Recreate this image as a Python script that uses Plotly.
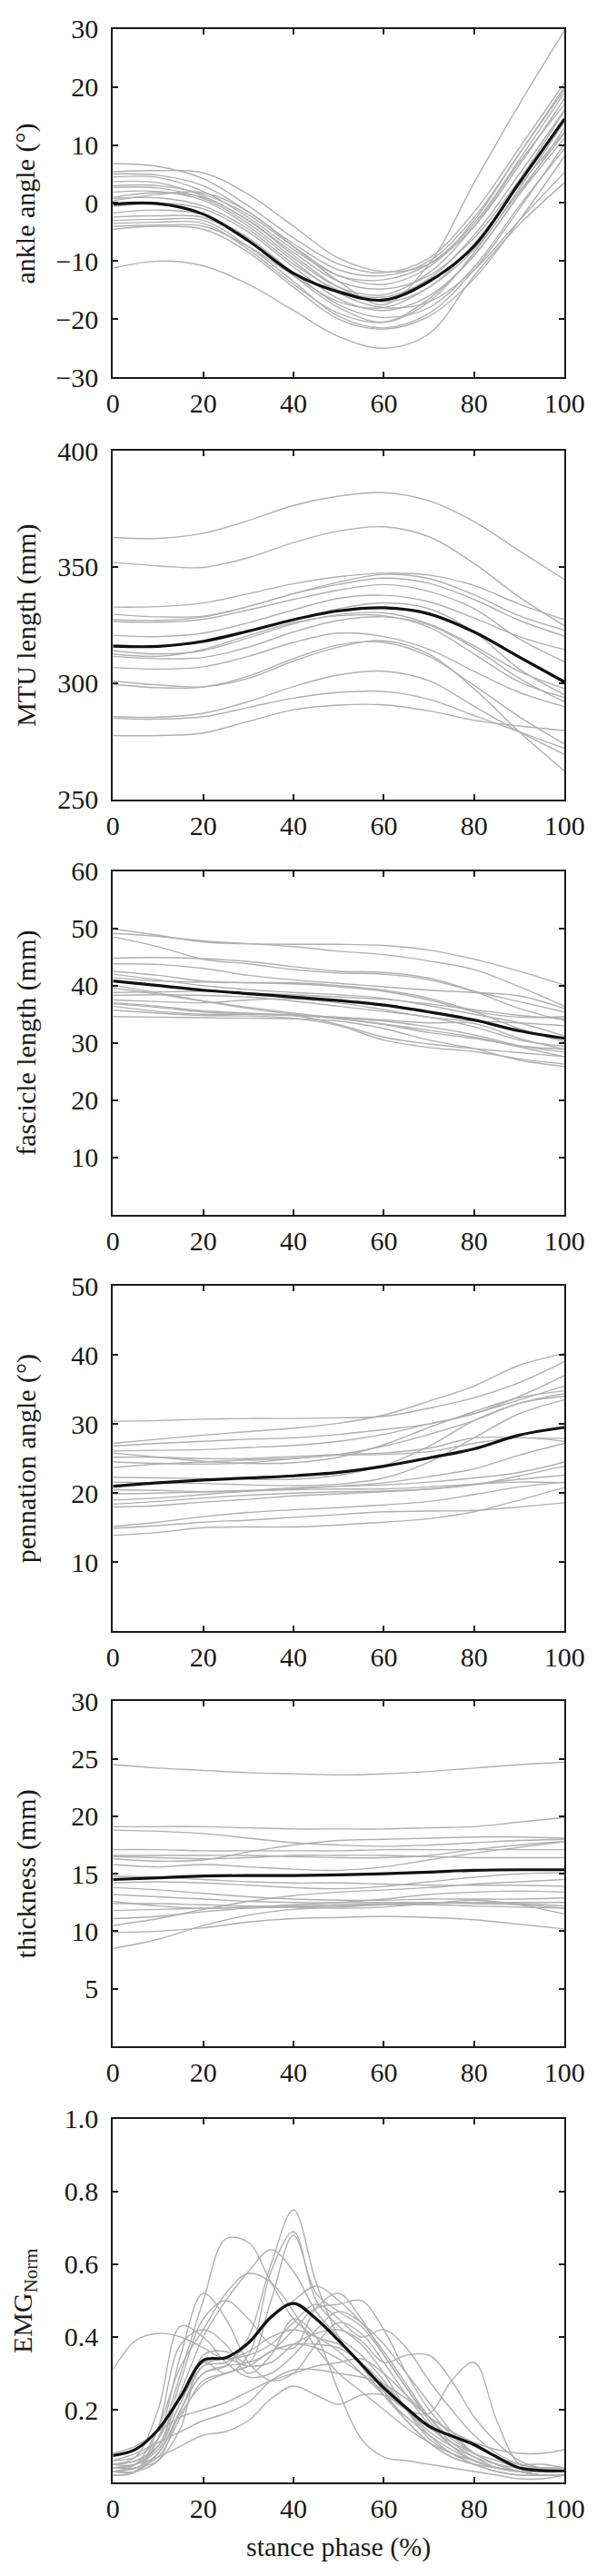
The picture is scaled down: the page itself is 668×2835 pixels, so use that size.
import plotly.graph_objects as go

# ---------------- data ----------------
X10 = [0, 10, 20, 30, 40, 50, 60, 70, 80, 90, 100]
X5 = [0, 5, 10, 15, 20, 25, 30, 35, 40, 45, 50, 55, 60, 65, 70, 75, 80, 85, 90, 95, 100]

ankle_mean = [-0.2, -0.1, -1.9, -6.5, -12.1, -15.3, -16.7, -13.5, -7.4, 3.5, 14.5]
ankle_subjects = [
    [6.8, 6.3, 4.2, -0.5, -6.0, -10.5, -12.0, -9.5, -1.5, 9.5, 20.7],
    [5.4, 5.6, 5.2, 1.5, -4.0, -9.5, -11.8, -10.5, -4.0, 6.5, 18.0],
    [5.0, 4.8, 3.0, -1.5, -7.0, -11.5, -12.5, -10.0, -2.5, 8.5, 20.0],
    [4.5, 4.4, 2.0, -2.5, -8.0, -12.5, -13.2, -10.5, -3.5, 7.5, 19.0],
    [3.7, 3.5, 1.2, -3.0, -8.5, -13.5, -14.8, -12.5, -6.0, 4.0, 16.0],
    [2.7, 2.6, 0.8, -3.5, -9.5, -14.5, -15.8, -12.0, -4.0, 7.0, 17.0],
    [1.0, 1.8, 1.0, -3.0, -9.0, -14.5, -17.0, -14.5, -7.0, 3.0, 12.2],
    [0.4, 1.5, 1.8, -1.5, -7.5, -13.5, -17.5, -10.5, 3.5, 17.0, 29.7],
    [-0.6, 0.0, -1.0, -5.0, -11.0, -16.5, -18.5, -16.0, -9.0, 1.5, 11.2],
    [-1.7, -1.2, -2.0, -6.0, -12.0, -17.5, -19.7, -18.0, -11.0, -0.5, 9.4],
    [-2.4, -2.2, -2.5, -6.5, -12.5, -18.0, -20.5, -17.0, -8.5, 2.5, 14.0],
    [-3.0, -2.8, -3.0, -7.5, -13.5, -19.5, -21.5, -19.0, -11.5, -1.0, 10.2],
    [-3.5, -3.3, -3.5, -8.0, -14.0, -19.0, -20.5, -16.5, -9.0, 1.5, 13.0],
    [-4.0, -3.8, -4.0, -7.5, -12.5, -17.0, -18.0, -14.5, -8.0, 2.0, 12.0],
    [-4.5, -4.0, -4.5, -8.5, -14.5, -20.0, -21.7, -19.5, -13.0, -3.0, 8.1],
    [-11.2, -10.0, -10.8, -14.0, -18.5, -23.0, -25.0, -22.5, -12.5, -3.7, 3.5],
    [1.9, 2.0, 0.5, -4.0, -10.0, -15.5, -18.0, -17.0, -11.5, -3.0, 5.3],
    [0.8, 0.9, -0.5, -4.5, -10.5, -15.0, -16.2, -13.0, -5.5, 5.0, 16.0],
    [3.0, 3.0, 1.5, -2.0, -7.5, -12.5, -14.0, -11.0, -3.0, 8.5, 19.5],
]

mtu_mean = [315.9, 315.8, 318.0, 322.4, 327.3, 331.1, 332.4, 329.8, 322.0, 311.2, 300.5]
mtu_subjects = [
    [362.7, 362.3, 364.5, 370.0, 376.5, 380.5, 382.0, 378.5, 369.5, 357.0, 344.6],
    [352.0, 350.5, 349.8, 354.0, 360.5, 365.5, 367.3, 363.0, 351.5, 337.0, 324.7],
    [332.7, 332.9, 334.5, 338.5, 342.8, 345.8, 347.3, 346.5, 342.0, 334.0, 327.3],
    [329.6, 328.5, 328.8, 333.0, 338.5, 343.5, 346.8, 345.0, 338.0, 329.0, 322.8],
    [327.3, 327.0, 328.5, 333.0, 338.5, 342.5, 345.2, 343.0, 336.0, 327.0, 320.2],
    [320.6, 320.0, 321.5, 326.0, 331.5, 336.5, 337.8, 335.0, 328.0, 320.0, 314.4],
    [326.5, 326.2, 327.5, 331.5, 336.0, 340.0, 342.4, 339.5, 332.0, 319.0, 309.2],
    [314.0, 312.5, 314.0, 319.5, 325.5, 329.5, 330.2, 325.5, 316.0, 305.0, 297.6],
    [312.5, 311.5, 314.5, 320.5, 326.0, 329.0, 329.0, 324.0, 312.5, 300.5, 293.8],
    [311.5, 310.5, 311.0, 315.5, 322.0, 327.0, 328.5, 325.0, 315.0, 302.0, 291.9],
    [306.7, 306.0, 307.0, 311.5, 317.5, 321.5, 320.0, 314.5, 305.0, 296.0, 289.9],
    [300.9, 299.2, 298.4, 302.0, 309.5, 315.5, 318.2, 312.5, 297.5, 279.0, 262.2],
    [299.5, 298.0, 298.3, 303.0, 310.5, 316.5, 317.5, 311.5, 299.0, 285.5, 273.8],
    [285.5, 285.3, 287.0, 292.0, 298.5, 303.5, 305.1, 301.0, 290.0, 279.0, 269.3],
    [284.8, 284.5, 285.5, 289.5, 293.5, 296.0, 296.4, 293.0, 286.0, 279.0, 271.9],
    [277.4, 277.4, 278.5, 283.5, 288.5, 290.5, 290.6, 288.0, 284.0, 281.5, 279.6],
    [316.5, 316.0, 317.5, 322.0, 327.5, 332.0, 334.5, 332.0, 322.0, 306.0, 295.0],
]

fascicle_mean = [40.8, 40.0, 39.2, 38.6, 38.0, 37.4, 36.6, 35.4, 34.0, 32.1, 30.8]
fascicle_subjects = [
    [49.9, 48.8, 47.6, 47.3, 47.2, 47.2, 47.0, 46.2, 44.6, 42.5, 40.1],
    [49.1, 48.6, 47.8, 47.3, 46.8, 46.0, 45.4, 44.3, 42.8, 39.8, 36.4],
    [48.5, 46.8, 44.6, 43.8, 42.8, 42.2, 42.0, 41.0, 39.0, 37.2, 35.4],
    [44.8, 44.9, 44.7, 44.2, 43.3, 42.5, 42.3, 41.3, 39.0, 36.0, 33.9],
    [43.8, 43.7, 43.0, 41.8, 41.0, 40.4, 39.8, 39.2, 38.8, 38.2, 36.0],
    [42.5, 41.8, 40.8, 40.5, 40.3, 39.8, 39.0, 37.5, 35.5, 34.5, 34.6],
    [42.0, 41.0, 40.0, 39.3, 38.8, 38.4, 37.8, 36.5, 35.0, 33.5, 31.2],
    [41.4, 40.8, 40.6, 40.5, 40.5, 40.0, 39.2, 37.8, 35.5, 32.5, 30.2],
    [40.1, 38.7, 37.3, 36.0, 35.0, 34.2, 33.2, 31.8, 30.8, 29.5, 28.9],
    [39.6, 38.5, 37.3, 36.2, 35.2, 34.3, 33.3, 32.2, 31.0, 29.3, 27.6],
    [38.3, 38.4, 38.3, 38.0, 37.3, 36.4, 35.5, 34.5, 32.8, 30.5, 29.4],
    [37.5, 37.2, 37.0, 37.5, 37.7, 37.0, 35.8, 34.5, 33.8, 33.5, 33.0],
    [37.0, 36.4, 35.6, 35.2, 34.8, 34.4, 33.8, 32.8, 31.4, 29.5, 28.4],
    [36.4, 35.5, 35.0, 35.0, 34.8, 33.2, 31.0, 29.8, 29.0, 28.3, 27.6],
    [35.7, 35.2, 34.8, 34.7, 34.3, 33.0, 30.5, 29.2, 28.5, 27.2, 26.3],
    [34.6, 34.5, 34.4, 34.3, 34.2, 33.8, 32.5, 30.5, 29.0, 27.0, 25.9],
    [38.8, 38.9, 39.0, 38.7, 38.4, 38.0, 37.6, 36.8, 35.8, 34.8, 34.2],
    [36.8, 36.2, 35.4, 35.0, 34.8, 34.5, 34.0, 33.5, 33.4, 30.8, 28.9],
]

pennation_mean = [21.0, 21.5, 21.9, 22.2, 22.5, 23.0, 23.9, 25.1, 26.4, 28.4, 29.5]
pennation_subjects = [
    [30.4, 30.5, 30.7, 30.8, 30.8, 30.9, 31.1, 32.3, 33.8, 36.0, 39.0],
    [27.2, 27.8, 28.4, 28.9, 29.4, 30.1, 31.3, 33.3, 35.5, 38.5, 40.2],
    [26.8, 27.2, 27.5, 27.8, 28.0, 28.5, 29.2, 30.0, 31.5, 34.0, 37.0],
    [26.1, 26.2, 26.3, 26.6, 26.9, 27.5, 28.5, 30.0, 31.5, 33.5, 35.5],
    [25.8, 25.2, 24.6, 24.3, 24.4, 25.2, 27.0, 29.5, 31.8, 33.8, 34.8],
    [25.2, 25.2, 25.0, 25.0, 25.3, 25.6, 25.8, 26.5, 28.0, 28.0, 27.9],
    [24.5, 24.3, 24.2, 24.4, 25.0, 25.5, 25.6, 26.0, 27.2, 28.0, 27.5],
    [23.7, 24.2, 24.5, 24.8, 25.0, 25.6, 26.8, 28.5, 30.5, 33.0, 34.4],
    [22.3, 22.2, 22.1, 22.0, 22.0, 22.6, 24.0, 26.8, 30.5, 33.0, 34.0],
    [21.6, 21.5, 21.4, 21.2, 21.1, 21.3, 22.2, 24.5, 28.0, 31.5, 33.5],
    [20.5, 20.4, 20.2, 20.3, 20.6, 21.0, 21.5, 22.4, 23.5, 25.5, 27.2],
    [19.9, 20.0, 20.2, 20.4, 20.5, 20.6, 20.6, 20.9, 21.3, 21.6, 21.5],
    [19.0, 19.3, 19.8, 20.3, 20.8, 21.0, 21.2, 21.6, 22.2, 23.0, 24.5],
    [18.4, 18.8, 19.3, 19.7, 20.0, 20.2, 20.3, 20.6, 21.2, 22.5, 23.9],
    [18.0, 18.2, 18.7, 19.1, 19.6, 19.9, 20.2, 20.6, 21.3, 22.0, 22.6],
    [15.2, 15.8, 16.6, 17.2, 17.6, 17.9, 18.3, 18.8, 19.8, 20.9, 21.6],
    [14.9, 15.3, 15.8, 16.1, 16.5, 16.9, 17.3, 17.4, 17.5, 18.0, 18.6],
    [13.9, 14.3, 15.0, 15.1, 15.1, 15.4, 15.8, 16.3, 17.3, 19.0, 20.8],
]

thickness_mean = [14.5, 14.65, 14.8, 14.85, 14.85, 14.9, 15.0, 15.15, 15.3, 15.35, 15.35]
thickness_subjects = [
    [24.5, 24.2, 24.0, 23.8, 23.7, 23.6, 23.7, 23.9, 24.2, 24.5, 24.7],
    [19.1, 19.1, 19.1, 19.0, 18.9, 18.9, 18.9, 19.0, 19.1, 19.5, 19.9],
    [18.8, 18.7, 18.5, 18.1, 17.7, 17.5, 17.4, 17.5, 17.7, 17.9, 18.0],
    [17.1, 17.1, 17.0, 17.0, 17.0, 17.0, 17.1, 17.1, 17.1, 17.1, 17.1],
    [16.6, 16.6, 16.6, 16.6, 16.5, 16.4, 16.4, 16.6, 17.1, 17.5, 17.8],
    [16.5, 16.4, 16.3, 16.4, 16.6, 16.6, 16.6, 16.5, 16.4, 16.4, 16.4],
    [16.3, 16.1, 16.2, 16.9, 17.5, 17.9, 18.0, 18.1, 18.2, 18.2, 18.1],
    [15.8, 15.6, 15.8, 15.6, 15.4, 15.3, 15.6, 16.2, 16.8, 17.3, 17.8],
    [14.8, 14.7, 14.5, 14.3, 14.2, 14.2, 14.1, 14.0, 14.0, 14.0, 13.9],
    [14.2, 14.3, 14.2, 14.0, 13.8, 13.7, 13.9, 14.3, 14.7, 15.0, 15.1],
    [13.8, 13.6, 13.3, 13.0, 12.8, 12.7, 12.7, 12.8, 12.8, 12.8, 12.9],
    [13.2, 13.0, 12.8, 12.6, 12.5, 12.5, 12.5, 12.5, 12.4, 12.3, 12.0],
    [12.6, 12.2, 12.0, 12.1, 12.3, 12.5, 12.8, 13.2, 13.4, 13.5, 13.4],
    [12.4, 12.4, 12.3, 12.2, 12.1, 12.0, 12.1, 12.4, 12.7, 12.3, 11.5],
    [11.8, 11.9, 12.0, 12.1, 12.2, 12.3, 12.4, 12.5, 12.5, 12.5, 12.5],
    [11.1, 11.3, 11.7, 12.0, 12.1, 12.2, 12.3, 12.3, 12.2, 12.1, 12.0],
    [10.5, 11.1, 11.9, 12.6, 13.1, 13.4, 13.6, 13.8, 14.1, 14.3, 14.5],
    [9.9, 10.0, 10.3, 10.8, 11.1, 11.2, 11.3, 11.2, 11.0, 10.6, 10.2],
    [8.5, 9.3, 10.5, 11.4, 11.9, 12.1, 12.3, 12.4, 12.5, 12.4, 12.2],
]

emg_mean = [0.074, 0.091, 0.145, 0.236, 0.336, 0.343, 0.384, 0.455, 0.492, 0.45, 0.39,
            0.325, 0.26, 0.205, 0.155, 0.128, 0.104, 0.07, 0.04, 0.033, 0.032]
emg_subjects = [
    [0.31, 0.39, 0.41, 0.40, 0.37, 0.34, 0.36, 0.40, 0.42, 0.40, 0.36, 0.30, 0.24, 0.18, 0.13, 0.09, 0.06, 0.04, 0.03, 0.03, 0.03],
    [0.04, 0.05, 0.12, 0.30, 0.50, 0.67, 0.66, 0.55, 0.45, 0.40, 0.38, 0.33, 0.25, 0.17, 0.11, 0.07, 0.05, 0.04, 0.03, 0.03, 0.03],
    [0.03, 0.03, 0.08, 0.20, 0.30, 0.32, 0.40, 0.60, 0.75, 0.55, 0.40, 0.32, 0.24, 0.17, 0.11, 0.07, 0.05, 0.03, 0.02, 0.02, 0.02],
    [0.05, 0.06, 0.10, 0.22, 0.33, 0.30, 0.35, 0.58, 0.69, 0.50, 0.43, 0.38, 0.30, 0.20, 0.12, 0.08, 0.05, 0.03, 0.02, 0.02, 0.02],
    [0.04, 0.04, 0.06, 0.15, 0.35, 0.36, 0.33, 0.50, 0.68, 0.52, 0.47, 0.43, 0.35, 0.26, 0.17, 0.10, 0.06, 0.04, 0.03, 0.02, 0.02],
    [0.06, 0.07, 0.12, 0.25, 0.40, 0.50, 0.58, 0.64, 0.58, 0.47, 0.40, 0.35, 0.28, 0.20, 0.13, 0.08, 0.06, 0.04, 0.03, 0.03, 0.03],
    [0.03, 0.05, 0.15, 0.32, 0.42, 0.52, 0.575, 0.55, 0.47, 0.37, 0.30, 0.25, 0.20, 0.15, 0.11, 0.08, 0.06, 0.04, 0.03, 0.03, 0.03],
    [0.02, 0.03, 0.12, 0.35, 0.52, 0.45, 0.33, 0.28, 0.30, 0.38, 0.44, 0.41, 0.33, 0.24, 0.16, 0.10, 0.06, 0.04, 0.03, 0.02, 0.02],
    [0.05, 0.06, 0.10, 0.28, 0.45, 0.50, 0.45, 0.38, 0.37, 0.48, 0.52, 0.45, 0.35, 0.26, 0.18, 0.12, 0.08, 0.05, 0.03, 0.02, 0.02],
    [0.04, 0.05, 0.09, 0.22, 0.32, 0.33, 0.38, 0.45, 0.50, 0.54, 0.50, 0.44, 0.36, 0.27, 0.18, 0.11, 0.07, 0.04, 0.03, 0.02, 0.02],
    [0.03, 0.03, 0.06, 0.20, 0.30, 0.32, 0.33, 0.36, 0.42, 0.48, 0.49, 0.50, 0.42, 0.30, 0.20, 0.13, 0.08, 0.05, 0.03, 0.03, 0.03],
    [0.05, 0.05, 0.10, 0.24, 0.33, 0.34, 0.35, 0.38, 0.44, 0.49, 0.45, 0.40, 0.42, 0.37, 0.28, 0.20, 0.13, 0.08, 0.05, 0.04, 0.04],
    [0.02, 0.03, 0.08, 0.20, 0.32, 0.34, 0.32, 0.33, 0.38, 0.41, 0.42, 0.39, 0.33, 0.35, 0.35, 0.28, 0.18, 0.11, 0.06, 0.04, 0.04],
    [0.03, 0.04, 0.07, 0.18, 0.28, 0.30, 0.32, 0.36, 0.38, 0.37, 0.34, 0.30, 0.25, 0.20, 0.19, 0.28, 0.33, 0.17, 0.05, 0.03, 0.03],
    [0.04, 0.05, 0.07, 0.10, 0.13, 0.14, 0.17, 0.23, 0.265, 0.24, 0.215, 0.24, 0.24, 0.20, 0.14, 0.10, 0.07, 0.05, 0.04, 0.04, 0.04],
    [0.06, 0.08, 0.11, 0.14, 0.17, 0.19, 0.22, 0.28, 0.31, 0.31, 0.30, 0.29, 0.27, 0.23, 0.18, 0.14, 0.10, 0.07, 0.05, 0.05, 0.04],
    [0.08, 0.10, 0.14, 0.18, 0.20, 0.22, 0.25, 0.28, 0.30, 0.32, 0.33, 0.34, 0.30, 0.24, 0.18, 0.14, 0.11, 0.09, 0.08, 0.08, 0.09],
    [0.03, 0.04, 0.08, 0.19, 0.27, 0.30, 0.32, 0.36, 0.38, 0.38, 0.37, 0.33, 0.27, 0.20, 0.15, 0.11, 0.08, 0.06, 0.04, 0.03, 0.03],
    [0.02, 0.03, 0.15, 0.38, 0.42, 0.38, 0.30, 0.35, 0.45, 0.40, 0.25, 0.12, 0.07, 0.06, 0.05, 0.04, 0.03, 0.02, 0.01, 0.01, 0.02],
    [0.05, 0.07, 0.20, 0.43, 0.40, 0.33, 0.29, 0.30, 0.35, 0.42, 0.47, 0.44, 0.38, 0.30, 0.22, 0.14, 0.08, 0.05, 0.03, 0.02, 0.02],
]

x_ticks = [0, 20, 40, 60, 80, 100]
ankle_ticks = [-30, -20, -10, 0, 10, 20, 30]
mtu_ticks = [250, 300, 350, 400]
fascicle_ticks = [10, 20, 30, 40, 50, 60]
pennation_ticks = [10, 20, 30, 40, 50]
thickness_ticks = [5, 10, 15, 20, 25, 30]
emg_ticks = [0.2, 0.4, 0.6, 0.8, 1.0]

y_titles = ["ankle angle (°)", "MTU length (mm)", "fascicle length (mm)",
            "pennation angle (°)", "thickness (mm)", "EMG<sub>Norm</sub>"]
x_title = "stance phase (%)"

# ---------------- figure ----------------
W, H = 668, 2835
LEFT, RIGHT = 122, 643
PANELS = [(15, 403), (485, 873), (953, 1336), (1415, 1800), (1878, 2262), (2343, 2748)]
TITLE_X = [22, 22, 22, 22, 22, 20]
FONT = "Liberation Serif"
FS = 30
INK = "#1a1a1a"
GREY = "#b0b0b0"
BLACK = "#111111"


def fmt(v, dec=0):
    s = f"{abs(v):.{dec}f}"
    return ("\u2212" + s) if v < 0 else s


panel_data = [
    (X10, ankle_subjects, ankle_mean, [-30, 30], ankle_ticks, 0),
    (X10, mtu_subjects, mtu_mean, [250, 400], mtu_ticks, 0),
    (X10, fascicle_subjects, fascicle_mean, [0, 60], fascicle_ticks, 0),
    (X10, pennation_subjects, pennation_mean, [0, 50], pennation_ticks, 0),
    (X10, thickness_subjects, thickness_mean, [0, 30], thickness_ticks, 0),
    (X5, emg_subjects, emg_mean, [0, 1.0], emg_ticks, 1),
]

fig = go.Figure()
layout = dict(
    width=W, height=H, margin=dict(l=0, r=0, t=0, b=0),
    paper_bgcolor="white", plot_bgcolor="white", showlegend=False,
    font=dict(family=FONT, size=FS, color=INK),
)
annotations = []

for i, (xs, subs, mean, yr, yt, dec) in enumerate(panel_data):
    n = "" if i == 0 else str(i + 1)
    for s in subs:
        fig.add_trace(go.Scatter(
            x=xs, y=s, mode="lines", xaxis="x" + n, yaxis="y" + n,
            line=dict(color=GREY, width=1.4, shape="spline", smoothing=1.0),
            hoverinfo="skip"))
    fig.add_trace(go.Scatter(
        x=xs, y=mean, mode="lines", xaxis="x" + n, yaxis="y" + n,
        line=dict(color=BLACK, width=3.2, shape="spline", smoothing=1.0),
        hoverinfo="skip"))

    top, bot = PANELS[i]
    axis_common = dict(
        showline=True, linecolor=INK, linewidth=2, mirror="ticks",
        ticks="inside", ticklen=6, tickwidth=2, tickcolor=INK,
        showgrid=False, zeroline=False,
        tickfont=dict(family=FONT, size=FS, color=INK),
    )
    layout["xaxis" + n] = dict(
        domain=[LEFT / W, RIGHT / W], range=[0, 100], anchor="y" + n,
        tickvals=x_ticks, ticktext=[str(v) for v in x_ticks],
        ticklabelstandoff=1, **axis_common)
    layout["yaxis" + n] = dict(
        domain=[1 - bot / H, 1 - top / H], range=yr, anchor="x" + n,
        tickvals=yt, ticktext=[fmt(v, dec) for v in yt],
        ticklabelstandoff=8, **axis_common)
    annotations.append(dict(
        text=y_titles[i], textangle=-90, showarrow=False,
        xref="paper", yref="paper", x=TITLE_X[i] / W, y=1 - (top + bot) / 2 / H,
        xanchor="center", yanchor="middle",
        font=dict(family=FONT, size=FS, color=INK)))

annotations.append(dict(
    text=x_title, showarrow=False, xref="paper", yref="paper",
    x=(LEFT + RIGHT) / 2 / W, y=1 - 2801 / H, xanchor="center", yanchor="top",
    font=dict(family=FONT, size=FS, color=INK)))

layout["annotations"] = annotations
fig.update_layout(**layout)
fig.write_html("out.html",
               config={"displayModeBar": False},
               post_script="document.body.style.margin='0';document.body.style.overflow='hidden';")
